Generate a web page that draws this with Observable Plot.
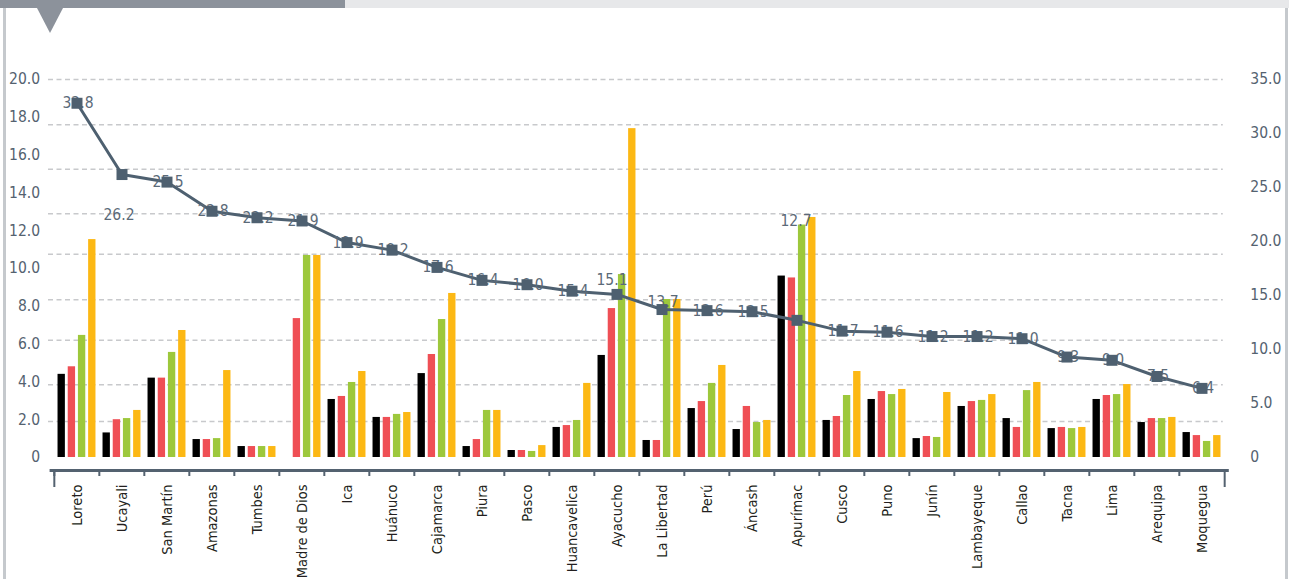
<!DOCTYPE html>
<html>
<head>
<meta charset="utf-8">
<script src="https://cdn.jsdelivr.net/npm/d3@7"></script>
<script src="https://cdn.jsdelivr.net/npm/@observablehq/plot@0.6"></script>
<style>
  html, body { margin: 0; padding: 0; background: #ffffff; }
  #wrap { position: relative; width: 1289px; height: 579px; overflow: hidden; background: #fff; }
  .bar-dark { position: absolute; left: 0; top: 0; width: 345px; height: 8px; background: #8c929b; }
  .bar-light { position: absolute; left: 345px; top: 0; width: 944px; height: 8px; background: #e7e8ea; }
  .tri { position: absolute; left: 37px; top: 8px; width: 0; height: 0;
         border-left: 13.5px solid transparent; border-right: 13.5px solid transparent;
         border-top: 25px solid #8c929b; }
  .bl { position: absolute; left: 3px; top: 8px; width: 3px; height: 571px; background: #c5c9cd; }
  .br { position: absolute; left: 1285px; top: 8px; width: 3px; height: 571px; background: #c5c9cd; }
  #chart { position: absolute; left: 0; top: 0; }
</style>
</head>
<body>
<div id="wrap">
  <div class="bar-dark"></div>
  <div class="bar-light"></div>
  <div class="tri"></div>
  <div class="bl"></div>
  <div class="br"></div>
  <div id="chart"></div>
</div>
<script>
// ---- Data ----
const regions = ["Loreto","Ucayali","San Martín","Amazonas","Tumbes","Madre de Dios","Ica","Huánuco",
  "Cajamarca","Piura","Pasco","Huancavelica","Ayacucho","La Libertad","Perú","Áncash","Apurímac",
  "Cusco","Puno","Junín","Lambayeque","Callao","Tacna","Lima","Arequipa","Moquegua"];

// bar series (left axis)
const serieNegro    = [4.4, 1.3, 4.2, 0.95, 0.58, 0,    3.07, 2.12, 4.44, 0.58, 0.37, 1.59, 5.4,  0.9,  2.59, 1.48, 9.6,  1.96, 3.07, 1.0,  2.7,  2.06, 1.53, 3.07, 1.85, 1.32];
const serieRojo     = [4.8, 2.0, 4.2, 0.95, 0.58, 7.35, 3.23, 2.12, 5.45, 0.95, 0.37, 1.69, 7.88, 0.9,  2.96, 2.7,  9.5,  2.17, 3.49, 1.11, 2.96, 1.59, 1.59, 3.28, 2.06, 1.16];
const serieVerde    = [6.46,2.06,5.56,1.0,  0.58, 10.69,3.97, 2.28, 7.3,  2.49, 0.32, 1.96, 9.68, 8.36, 3.92, 1.85, 12.3, 3.28, 3.33, 1.06, 3.02, 3.54, 1.53, 3.33, 2.06, 0.85];
const serieAmarillo = [11.53,2.49,6.72,4.6, 0.58, 10.69,4.55, 2.38, 8.68, 2.49, 0.63, 3.92, 17.4, 8.36, 4.87, 1.96, 12.7, 4.55, 3.6,  3.44, 3.33, 3.97, 1.59, 3.86, 2.12, 1.16];

// line series (right axis)
const tasa = [32.8, 26.2, 25.5, 22.8, 22.2, 21.9, 19.9, 19.2, 17.6, 16.4, 16.0, 15.4, 15.1, 13.7, 13.6, 13.5, 12.7, 11.7, 11.6, 11.2, 11.2, 11.0, 9.3, 9.0, 7.5, 6.4];

const leftTicks  = [0, 2, 4, 6, 8, 10, 12, 14, 16, 18, 20];
const rightTicks = [0, 5, 10, 15, 20, 25, 30, 35];
const gridTicks  = [1.9, 3.85, 6.2, 8.35, 10.75, 12.9, 15.25, 17.6, 20];

// ---- Build ----
const LEFT_MAX = 20, RIGHT_MAX = 35;
const toLeft = v => v * LEFT_MAX / RIGHT_MAX;
const rows = regions.map((r, i) => ({
  region: r, negro: serieNegro[i], rojo: serieRojo[i], verde: serieVerde[i], amarillo: serieAmarillo[i], tasa: tasa[i]
}));

const W = 1289, H = 579, mL = 49.6, mR = 60.2;
const bw = (W - mL - mR) / regions.length;
const barInset = (bw - 7.7) / 2;
const slate = "#4e6070";
const axisCol = "#546270";
const labelCol = "#5b6a78";
const fontFam = "'DejaVu Sans Condensed', 'Liberation Sans Narrow', 'Liberation Sans', sans-serif";

const series = [
  ["negro", "#000000", -15.3],
  ["rojo", "#ef4f55", -5.1],
  ["verde", "#9dc83c", 5.1],
  ["amarillo", "#fcb814", 15.3]
];

const special = {
  "Ucayali": {dx: -3, dy: 40},
  "Ayacucho": {dx: -5, dy: -14},
  "La Libertad": {dx: 1, dy: -8},
  "Apurímac": {dx: -1, dy: -99}
};

const fmtLeft = d => d === 0 ? "0" : d.toFixed(1);
const fmtRight = d => { const r = Math.round(d * RIGHT_MAX / LEFT_MAX * 10) / 10; return r === 0 ? "0" : r.toFixed(1); };

const chart = Plot.plot({
  width: W, height: H,
  marginTop: 79, marginBottom: 109, marginLeft: mL, marginRight: mR,
  x: {type: "band", domain: regions, padding: 0, axis: null},
  y: {domain: [0, LEFT_MAX], insetBottom: 13, axis: null},
  style: {fontFamily: fontFam, fontSize: "15px", background: "transparent", overflow: "visible"},
  marks: [
    Plot.ruleY(gridTicks, {stroke: "#c8c9cc", strokeWidth: 1.5, strokeDasharray: "5,3.5", insetLeft: -1.6, insetRight: 6}),
    ...series.map(([k, c, dx]) => Plot.barY(rows, {x: "region", y: k, fill: c, dx, insetLeft: barInset, insetRight: barInset})),
    Plot.ruleY([0], {dy: 13, stroke: axisCol, strokeWidth: 3}),
    Plot.axisX({tickSize: 6, tickFormat: () => "", dx: -bw / 2, stroke: axisCol, strokeWidth: 2, label: null}),
    Plot.axisX({ticks: [regions[0]], tickSize: 17, tickFormat: () => "", dx: -bw / 2, stroke: axisCol, strokeWidth: 2, label: null}),
    Plot.axisX({ticks: [regions[regions.length - 1]], tickSize: 17, tickFormat: () => "", dx: bw / 2, stroke: axisCol, strokeWidth: 2, label: null}),
    Plot.axisX({tickSize: 0, tickPadding: 14, tickRotate: -90, fill: "#231f20", label: null, fontSize: 14.5}),
    Plot.axisY({anchor: "left", ticks: leftTicks, tickFormat: fmtLeft, tickSize: 0, tickPadding: 10, fill: axisCol, label: null, fontSize: 15.5}),
    Plot.axisY({anchor: "right", ticks: rightTicks.map(toLeft), tickFormat: fmtRight, tickSize: 0, tickPadding: 21, fill: axisCol, label: null, fontSize: 15.5}),
    Plot.line(rows, {x: "region", y: d => toLeft(d.tasa), stroke: slate, strokeWidth: 3}),
    Plot.text(rows.filter(d => !special[d.region]), {x: "region", y: d => toLeft(d.tasa), text: d => d.tasa.toFixed(1), fill: labelCol, dx: 1, fontSize: 15.5}),
    ...Object.entries(special).map(([name, o]) =>
      Plot.text(rows.filter(d => d.region === name), {x: "region", y: d => toLeft(d.tasa), text: d => d.tasa.toFixed(1), fill: labelCol, dx: o.dx, dy: o.dy, fontSize: 15.5})),
    Plot.dot(rows, {x: "region", y: d => toLeft(d.tasa), symbol: "square", r: 6.2, fill: slate})
  ]
});
document.getElementById("chart").appendChild(chart);
</script>
</body>
</html>
